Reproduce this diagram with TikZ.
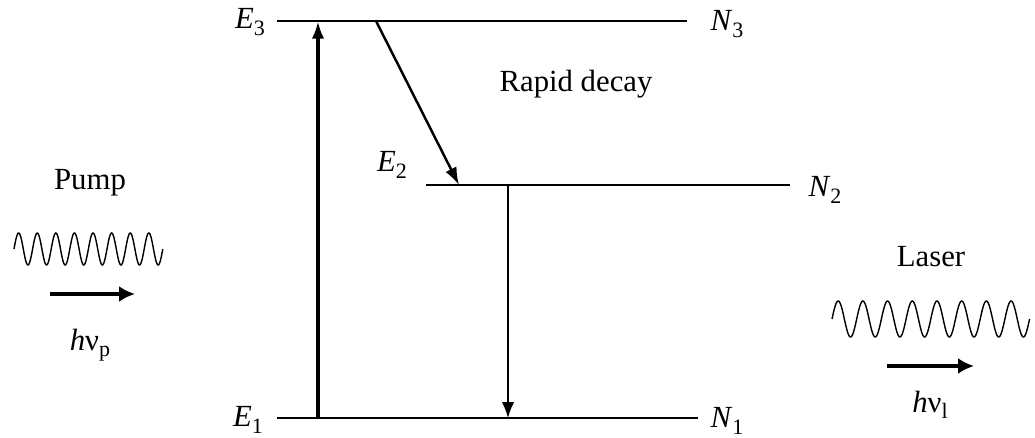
\documentclass[tikz,border=0pt]{standalone}
\usepackage{fontspec}
\setmainfont{Liberation Serif}
\usetikzlibrary{arrows.meta}
\newcommand{\lvl}[1]{\textit{#1}}
\newcommand{\sub}[1]{\raisebox{-0.45ex}{\fontsize{12.5}{14}\selectfont #1}}
\tikzset{
  level/.style={line width=0.9pt},
  lab/.style={font=\fontsize{17.5}{20}\selectfont, inner sep=1pt},
  photon/.style={line width=0.8pt},
  ray/.style={line width=2.6pt, -{Latex[length=9pt,width=9pt]}}
}

\begin{document}
\begin{tikzpicture}[x=0.02cm,y=-0.02cm]
	\useasboundingbox (0,0) rectangle (1035,438);
	% levels
	\coordinate (a3) at (277,21);   \coordinate (b3) at (687,21);
	\coordinate (a2) at (426,185);  \coordinate (b2) at (790,185);
	\coordinate (a1) at (277,418);  \coordinate (b1) at (698,418);
	\draw[level] (a3) -- (b3);
	\draw[level] (a2) -- (b2);
	\draw[level] (a1) -- (b1);
	\node[lab] (e3) at (250,22) {\lvl{E}\sub{3}};
	\node[lab] (n3) at (727,24) {\lvl{N}\sub{3}};
	\node[lab] (e2) at (392,165) {\lvl{E}\sub{2}};
	\node[lab] (n2) at (825,190) {\lvl{N}\sub{2}};
	\node[lab] (e1) at (248,420) {\lvl{E}\sub{1}};
	\node[lab] (n1) at (727,421) {\lvl{N}\sub{1}};
	% transitions
	\coordinate (p0) at (318,418); \coordinate (p1) at (318,21);
	\coordinate (d0) at (376,21);  \coordinate (d1) at (459,185);
	\coordinate (l0) at (508,185); \coordinate (l1) at (508,418);
	\draw[line width=2.2pt, -{Latex[length=10pt,width=7pt]}] (p0) -- (p1);
	\draw[line width=1.4pt, -{Latex[length=10pt,width=7pt]}] (d0) -- (d1);
	\draw[line width=0.9pt, -{Latex[length=9pt,width=7pt]}] (l0) -- (l1);
	\node[lab] (rd) at (576,84) {Rapid decay};
	% pump photon
	\node[lab] (pump) at (90,183) {Pump};
	\draw[photon] plot[domain=0:2880, samples=240] ({14+\x/360*18.6}, {249-16*sin(\x)});
	\coordinate (q0) at (50,294); \coordinate (q1) at (135,294);
	\draw[ray] (q0) -- (q1);
	\node[lab] (hp) at (90,345) {\lvl{h}ν\sub{p}};
	% laser photon
	\node[lab] (las) at (931,257) {Laser};
	\draw[photon] plot[domain=0:2880, samples=240] ({832+\x/360*24.7}, {319-18*sin(\x)});
	\coordinate (r0) at (887,366); \coordinate (r1) at (974,366);
	\draw[ray] (r0) -- (r1);
	\node[lab] (hl) at (930,405) {\lvl{h}ν\sub{l}};
\end{tikzpicture}
\end{document}
